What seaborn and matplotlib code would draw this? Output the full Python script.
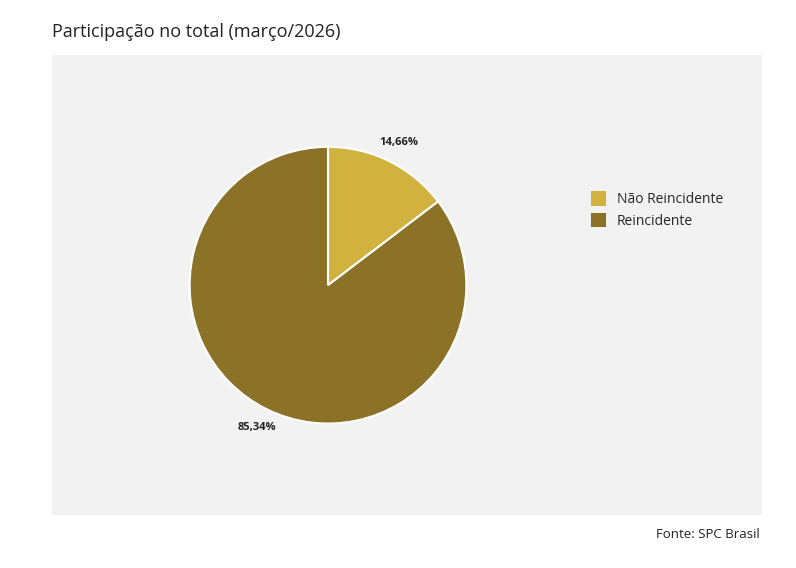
import matplotlib
matplotlib.use("Agg")
import matplotlib.pyplot as plt
import seaborn as sns
from matplotlib.patches import Rectangle, Patch

categories = ["Não Reincidente", "Reincidente"]
values = [14.66, 85.34]
colors = ["#D2B23F", "#8C7227"]

sns.set_theme(style="white")
plt.rcParams['font.family'] = ['Open Sans', 'DejaVu Sans']

fig = plt.figure(figsize=(7.96, 5.68), dpi=100)
fig.patch.set_facecolor("white")
fig.patches.append(Rectangle((52/796, 1-515/568), 710/796, 460/568,
                             transform=fig.transFigure, facecolor="#F2F2F2",
                             edgecolor="none", zorder=-10))
fig.text(52/796, 1-32/568, "Participação no total (março/2026)", fontsize=13,
         color="#222222", va="center", ha="left")
fig.text(760/796, 1-535/568, "Fonte: SPC Brasil", fontsize=9.5,
         color="#222222", va="center", ha="right")

ax = fig.add_axes([0.412-0.2173, 0.498-0.3046, 0.4347, 0.609])
ax.set_zorder(5)
ax.set_facecolor("none")
wedges, texts, autotexts = ax.pie(
    values, colors=colors, startangle=90, counterclock=False,
    autopct=lambda p: f"{p:.2f}%".replace(".", ","), pctdistance=1.15,
    wedgeprops=dict(edgecolor="white", linewidth=1.5))
for t in autotexts:
    t.set_fontsize(8)
    t.set_fontweight("bold")
    t.set_color("#222222")
ax.set_aspect("equal")

handles = [Patch(facecolor=c, edgecolor="none") for c in colors]
leg = fig.legend(handles, categories, loc="center left",
                 bbox_to_anchor=(578/796, 1-210/568), frameon=False,
                 fontsize=10, handlelength=1.1, handleheight=1.2,
                 handletextpad=0.8, labelspacing=0.4)
leg.set_zorder(6)

fig.savefig("out.png", dpi=100)
